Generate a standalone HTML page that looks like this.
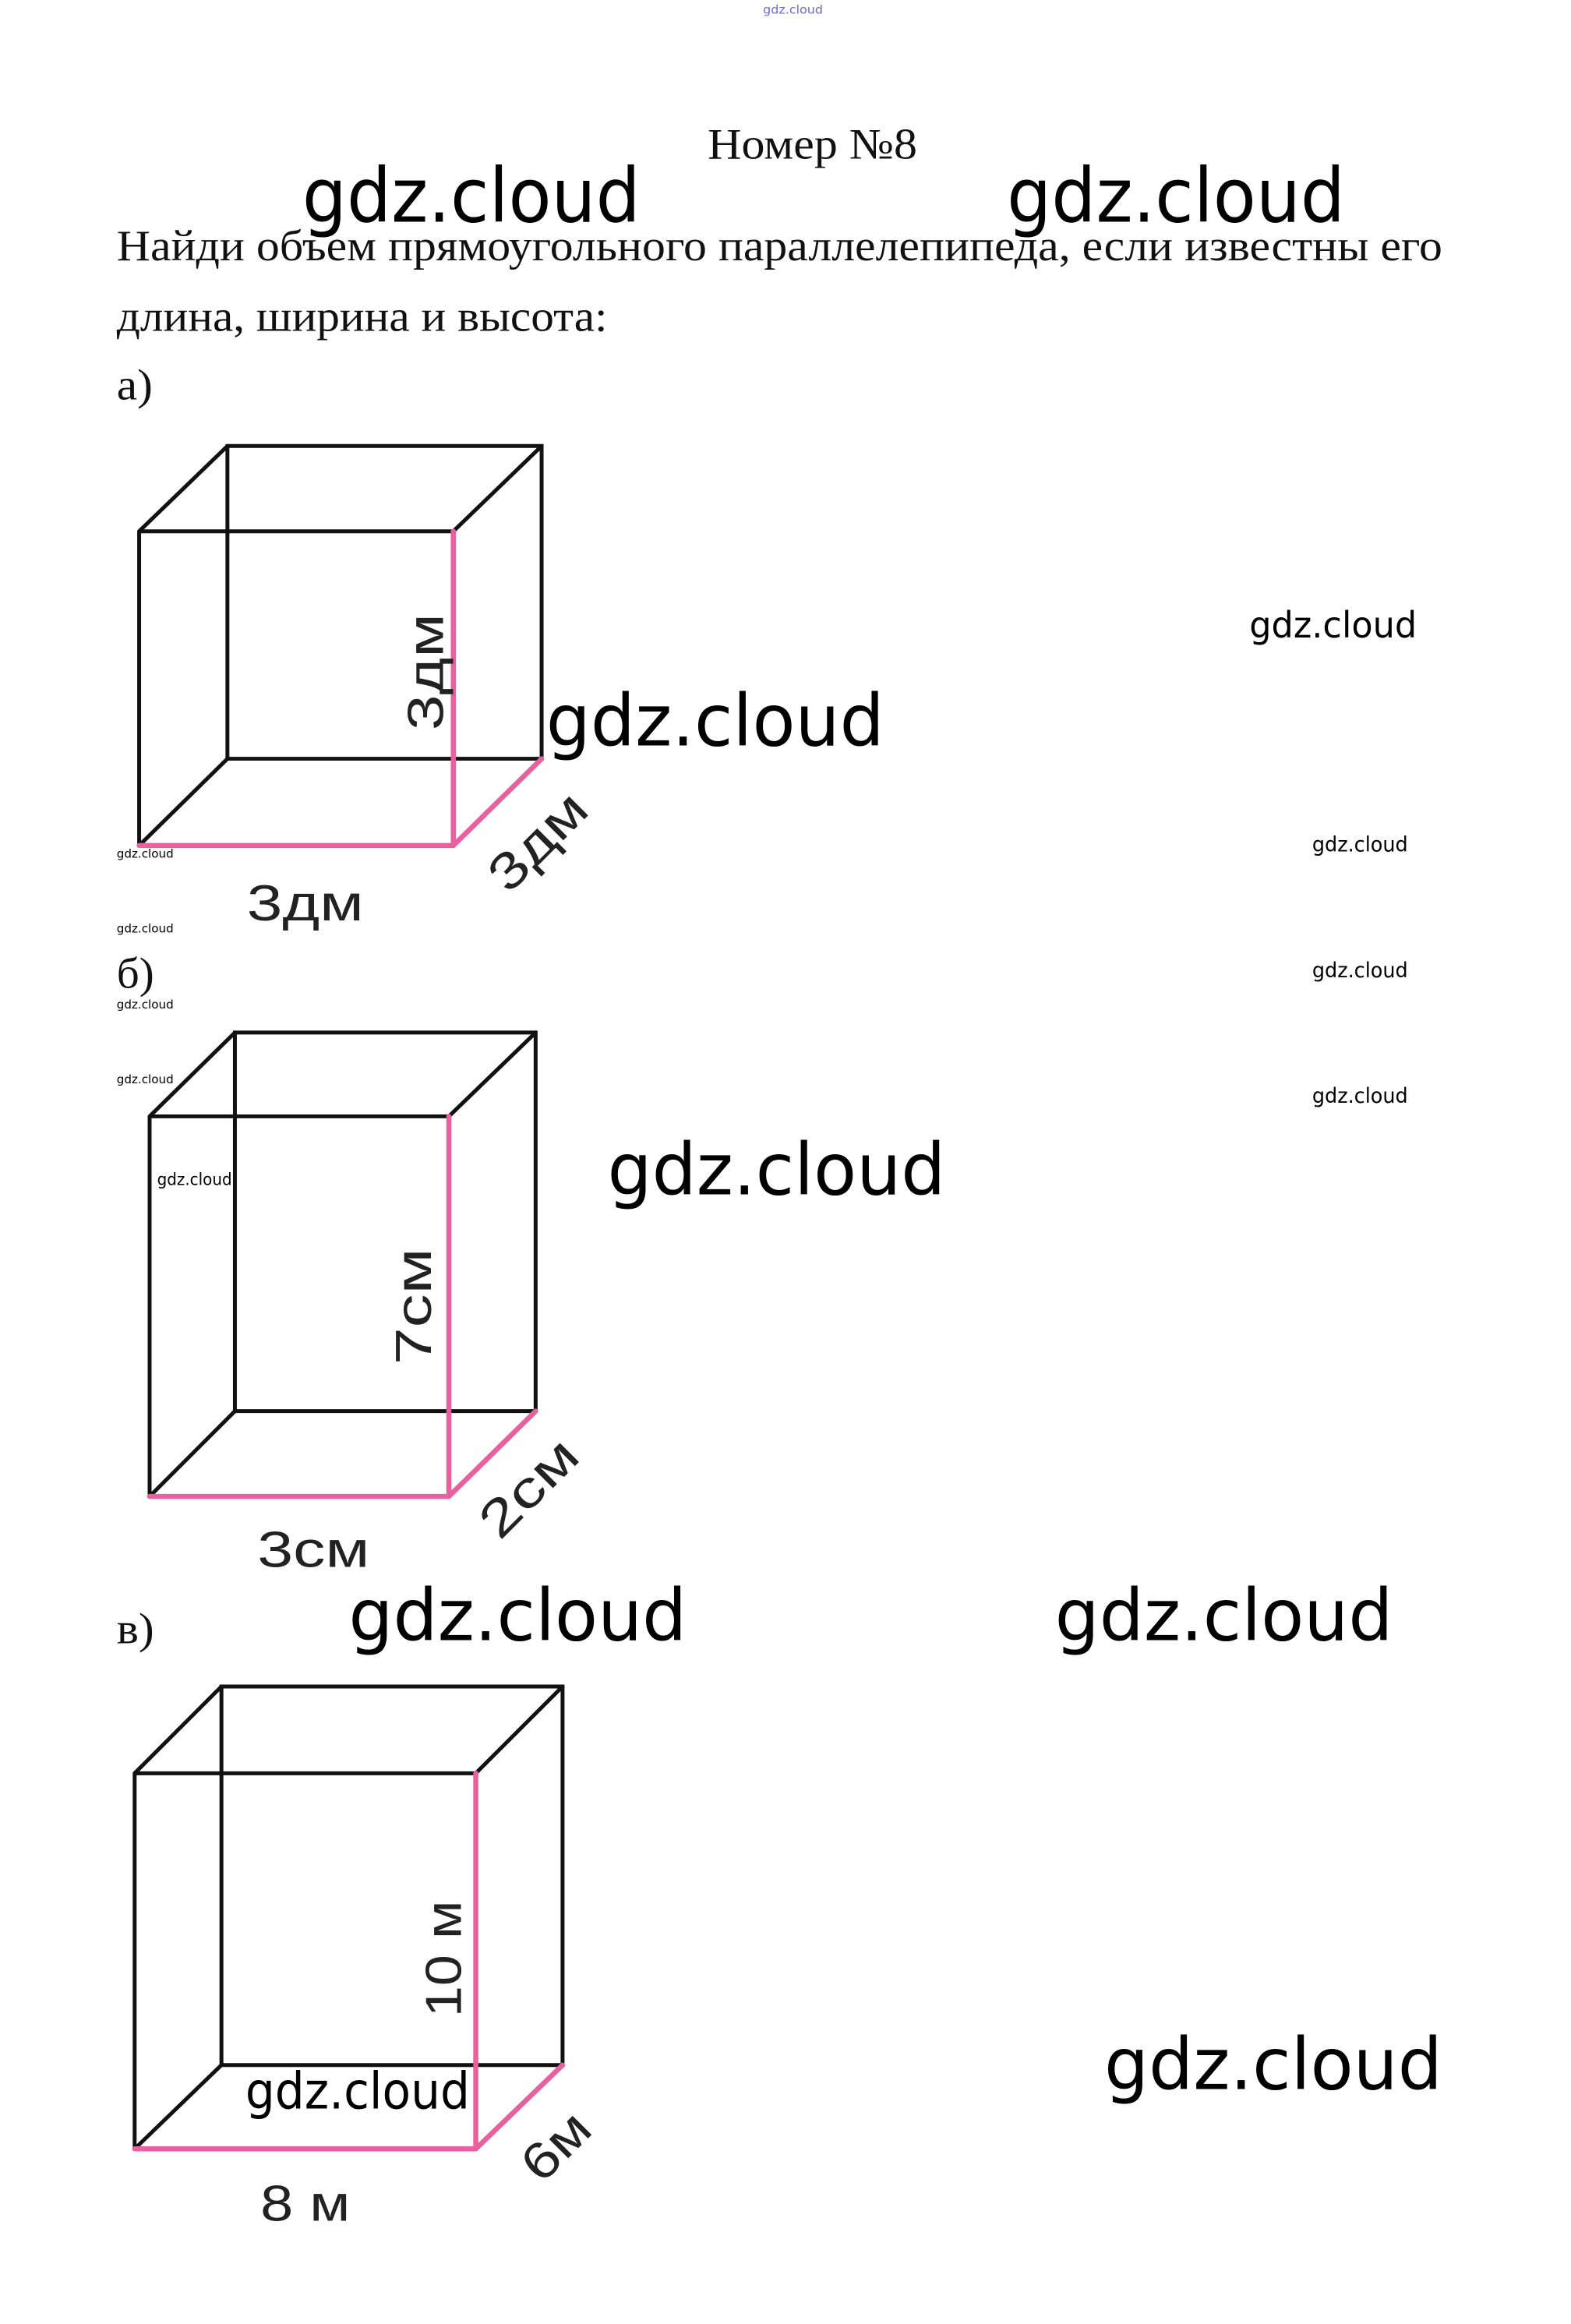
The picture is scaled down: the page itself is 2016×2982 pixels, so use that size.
<!DOCTYPE html>
<html><head><meta charset="utf-8"><style>
html,body{margin:0;padding:0;background:#fff;}
svg{display:block;}
.s{font-family:"Liberation Serif",serif;fill:#111;}
.w{font-family:"DejaVu Sans","Liberation Sans",sans-serif;fill:#000;}
.l{font-family:"Liberation Sans",sans-serif;fill:#222;}
.k{stroke:#111;stroke-width:2.6;fill:none;stroke-linecap:round;}
.p{stroke:#e8609e;stroke-width:3.4;fill:none;stroke-linecap:round;}
</style></head><body>
<svg width="2016" height="2982" viewBox="0 0 1050 1553" xmlns="http://www.w3.org/2000/svg">
<rect width="1050" height="1553" fill="#fff"/>
<text x="510" y="9" font-size="8" class="w" fill="#5566cc" style="fill:#6a6ad0" textLength="40" lengthAdjust="spacingAndGlyphs">gdz.cloud</text>

<text x="473" y="106" class="s" font-size="29" textLength="140" lengthAdjust="spacingAndGlyphs">Номер №8</text>
<text x="202" y="148" class="w" font-size="50" textLength="226" lengthAdjust="spacingAndGlyphs">gdz.cloud</text>
<text x="673" y="148" class="w" font-size="50" textLength="226" lengthAdjust="spacingAndGlyphs">gdz.cloud</text>
<text x="78" y="174" class="s" font-size="29" textLength="886" lengthAdjust="spacingAndGlyphs">Найди объем прямоугольного параллелепипеда, если известны его</text>
<text x="78" y="221" class="s" font-size="29" textLength="328" lengthAdjust="spacingAndGlyphs">длина, ширина и высота:</text>
<text x="78" y="267" class="s" font-size="29" textLength="24" lengthAdjust="spacingAndGlyphs">а)</text>

<!-- cube a -->
<g>
<path class="k" d="M152 298 L362 298 L362 507 L152 507 Z M93 355 L303 355 M93 355 L93 565 M93 355 L152 298 M303 355 L362 298 M93 565 L152 507"/>
<path class="p" d="M303 355 L303 565 M93 565 L303 565 L362 507"/>
<text class="l" font-size="34" transform="translate(296,488) rotate(-90)" textLength="78" lengthAdjust="spacingAndGlyphs">3дм</text>
<text class="l" font-size="34" x="165" y="615" textLength="78" lengthAdjust="spacingAndGlyphs">3дм</text>
<text class="l" font-size="34" transform="translate(340,598) rotate(-45)" textLength="78" lengthAdjust="spacingAndGlyphs">3дм</text>
</g>
<text x="365" y="498" class="w" font-size="48" textLength="226" lengthAdjust="spacingAndGlyphs">gdz.cloud</text>
<text x="835" y="426" class="w" font-size="24" textLength="112" lengthAdjust="spacingAndGlyphs">gdz.cloud</text>
<text x="877" y="569" class="w" font-size="14" textLength="64" lengthAdjust="spacingAndGlyphs">gdz.cloud</text>
<text x="877" y="653" class="w" font-size="14" textLength="64" lengthAdjust="spacingAndGlyphs">gdz.cloud</text>
<text x="877" y="737" class="w" font-size="14" textLength="64" lengthAdjust="spacingAndGlyphs">gdz.cloud</text>
<text x="78" y="573" class="w" font-size="8" textLength="38" lengthAdjust="spacingAndGlyphs">gdz.cloud</text>
<text x="78" y="623" class="w" font-size="8" textLength="38" lengthAdjust="spacingAndGlyphs">gdz.cloud</text>
<text x="78" y="674" class="w" font-size="8" textLength="38" lengthAdjust="spacingAndGlyphs">gdz.cloud</text>
<text x="78" y="724" class="w" font-size="8" textLength="38" lengthAdjust="spacingAndGlyphs">gdz.cloud</text>

<text x="78" y="660" class="s" font-size="29" textLength="25" lengthAdjust="spacingAndGlyphs">б)</text>

<!-- cube b -->
<g>
<path class="k" d="M157 690 L358 690 L358 943 L157 943 Z M100 746 L300 746 M100 746 L100 1000 M100 746 L157 690 M300 746 L358 690 M100 1000 L157 943"/>
<path class="p" d="M300 746 L300 1000 M100 1000 L300 1000 L358 943"/>
<text class="l" font-size="34" transform="translate(288,912) rotate(-90)" textLength="78" lengthAdjust="spacingAndGlyphs">7см</text>
<text class="l" font-size="34" x="172" y="1047" textLength="75" lengthAdjust="spacingAndGlyphs">3см</text>
<text class="l" font-size="34" transform="translate(334,1030) rotate(-45)" textLength="78" lengthAdjust="spacingAndGlyphs">2см</text>
</g>
<text x="105" y="792" class="w" font-size="11" textLength="50" lengthAdjust="spacingAndGlyphs">gdz.cloud</text>
<text x="406" y="798" class="w" font-size="48" textLength="226" lengthAdjust="spacingAndGlyphs">gdz.cloud</text>

<text x="78" y="1098" class="s" font-size="29" textLength="25" lengthAdjust="spacingAndGlyphs">в)</text>
<text x="233" y="1096" class="w" font-size="48" textLength="226" lengthAdjust="spacingAndGlyphs">gdz.cloud</text>
<text x="705" y="1096" class="w" font-size="48" textLength="226" lengthAdjust="spacingAndGlyphs">gdz.cloud</text>

<!-- cube c -->
<g>
<path class="k" d="M148 1127 L376 1127 L376 1380 L148 1380 Z M90 1185 L318 1185 M90 1185 L90 1436 M90 1185 L148 1127 M318 1185 L376 1127 M90 1436 L148 1380"/>
<path class="p" d="M318 1185 L318 1436 M90 1436 L318 1436 L376 1380"/>
<text class="l" font-size="34" transform="translate(308,1348) rotate(-90)" textLength="78" lengthAdjust="spacingAndGlyphs">10 м</text>
<text class="l" font-size="34" x="174" y="1484" textLength="60" lengthAdjust="spacingAndGlyphs">8 м</text>
<text class="l" font-size="34" transform="translate(362,1460) rotate(-45)" textLength="50" lengthAdjust="spacingAndGlyphs">6м</text>
</g>
<text x="164" y="1409" class="w" font-size="34" textLength="150" lengthAdjust="spacingAndGlyphs">gdz.cloud</text>
<text x="738" y="1396" class="w" font-size="48" textLength="226" lengthAdjust="spacingAndGlyphs">gdz.cloud</text>
</svg>
</body></html>
